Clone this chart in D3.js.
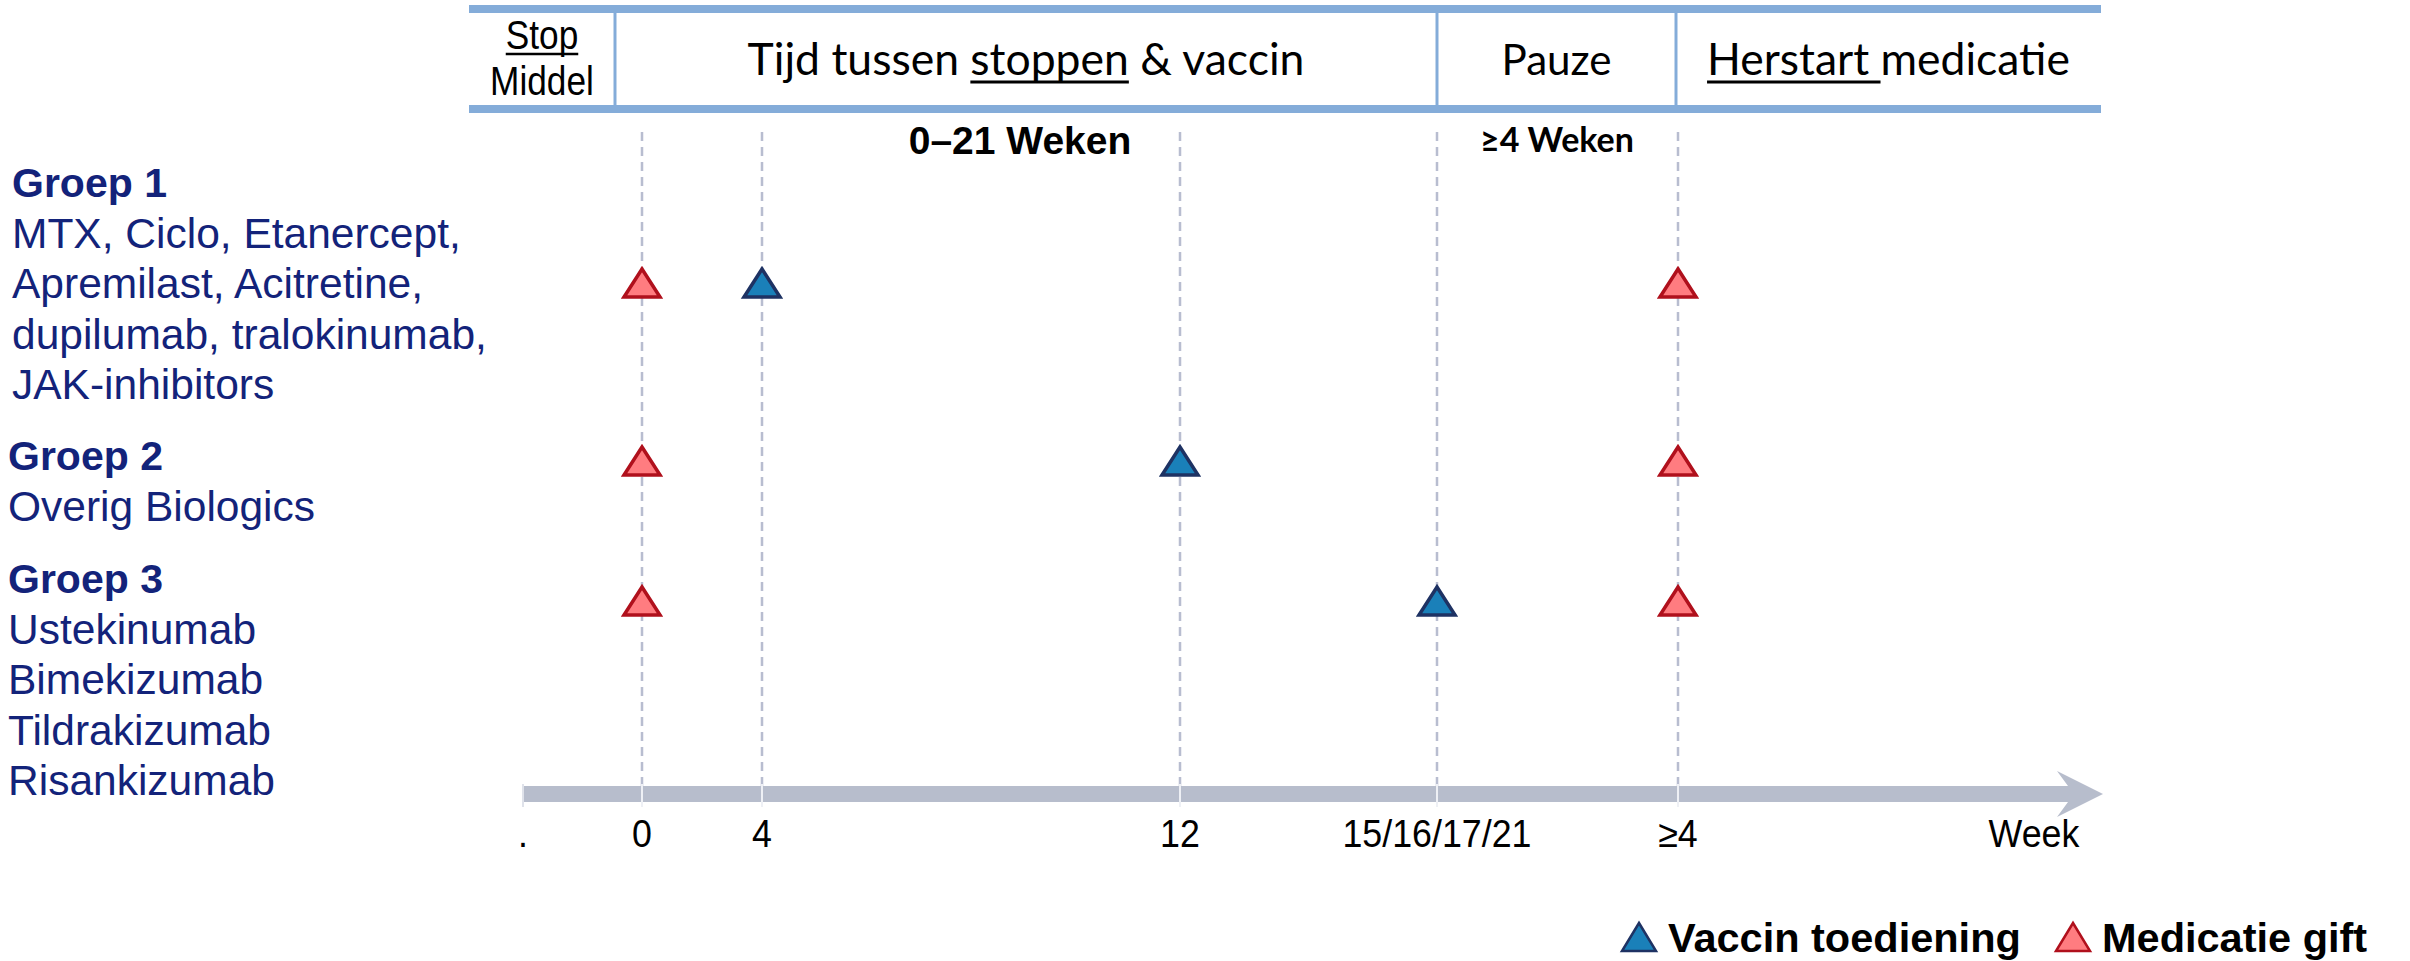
<!DOCTYPE html>
<html>
<head>
<meta charset="utf-8">
<script src="https://cdn.jsdelivr.net/npm/d3@7"></script>
<style>
  html, body { margin: 0; padding: 0; background: #ffffff; }
  svg { display: block; }
</style>
</head>
<body>
<svg id="chart" width="2410" height="961"></svg>
<script>
// ---------------- DATA ----------------
const groupTitles = ["Groep 1", "Groep 2", "Groep 3"];
const groupDrugs = [
  ["MTX, Ciclo, Etanercept,", "Apremilast, Acitretine,", "dupilumab, tralokinumab,", "JAK-inhibitors"],
  ["Overig Biologics"],
  ["Ustekinumab", "Bimekizumab", "Tildrakizumab", "Risankizumab"]
];
const tickLabels = [".", "0", "4", "12", "15/16/17/21", "≥4", "Week"];
const guideTicks = ["0", "4", "12", "15/16/17/21", "≥4"];
const stopAt = ["0", "0", "0"];              // medicatie gift (stop)
const vaccinAt = ["4", "12", "15/16/17/21"];  // vaccin toediening
const restartAt = ["≥4", "≥4", "≥4"];        // medicatie gift (herstart)
const headerCells = [
  { parts: [["Stop", true]], sub: "Middel" },
  { parts: [["Tijd tussen ", false], ["stoppen", true], [" & vaccin", false]] },
  { parts: [["Pauze", false]] },
  { parts: [["Herstart ", true], ["medicatie", false]] }
];
const durationLabels = ["0–21 Weken", "≥4 Weken"];
const legendLabels = ["Vaccin toediening", "Medicatie gift"];

// ---------------- LAYOUT ----------------
const svg = d3.select("#chart");
svg.append("rect").attr("width", 2410).attr("height", 961).attr("fill", "#ffffff");

const x = d3.scaleOrdinal().domain(tickLabels)
  .range([523, 642, 762, 1180, 1437, 1678, 2034]);
const y = d3.scaleOrdinal().domain(groupTitles).range([283, 461, 601]);

const navy = "#13237a";
const headerBlue = "#84acd9";
const barGray = "#b7bdcc";
const dashGray = "#b8bdd0";
const medFill = "#ff7c80", medStroke = "#b0101c";
const vacFill = "#1a80b9", vacStroke = "#1e3263";

// ---------- Header table ----------
const hx = [469, 615, 1437, 1676, 2101];
svg.append("rect").attr("x", hx[0]).attr("y", 5).attr("width", hx[4] - hx[0]).attr("height", 8).attr("fill", headerBlue);
svg.append("rect").attr("x", hx[0]).attr("y", 105).attr("width", hx[4] - hx[0]).attr("height", 8).attr("fill", headerBlue);
svg.selectAll("line.div").data(hx.slice(1, 4)).join("line")
  .attr("x1", d => d).attr("x2", d => d).attr("y1", 13).attr("y2", 105)
  .attr("stroke", headerBlue).attr("stroke-width", 3);

const calibriLike = "Lato, 'Open Sans', sans-serif";
const arialLike = "'Liberation Sans', Arial, sans-serif";
const targetW = [null, 557, 110, 363];
const narrow = 0.86;

headerCells.forEach((cell, i) => {
  const cx = (hx[i] + hx[i + 1]) / 2;
  if (i === 0) {
    const t1 = svg.append("text").attr("x", cx).attr("y", 49)
      .attr("text-anchor", "middle").attr("font-family", arialLike)
      .attr("font-size", 41).attr("fill", "#000")
      .attr("transform", `translate(${cx},0) scale(${narrow},1) translate(${-cx},0)`)
      .text(cell.parts[0][0]);
    const w = t1.node().getComputedTextLength() * narrow;
    svg.append("line").attr("x1", cx - w / 2).attr("x2", cx + w / 2)
      .attr("y1", 54).attr("y2", 54).attr("stroke", "#000").attr("stroke-width", 2.5);
    svg.append("text").attr("x", cx).attr("y", 95)
      .attr("text-anchor", "middle").attr("font-family", arialLike)
      .attr("font-size", 41).attr("fill", "#000")
      .attr("transform", `translate(${cx},0) scale(${narrow},1) translate(${-cx},0)`)
      .text(cell.sub);
    return;
  }
  const t = svg.append("text").attr("x", cx).attr("y", 75)
    .attr("text-anchor", "middle").attr("font-family", calibriLike)
    .attr("font-size", 44).attr("fill", "#000");
  cell.parts.forEach(p => t.append("tspan").text(p[0]));
  const w0 = t.node().getComputedTextLength();
  t.attr("font-size", 44 * targetW[i] / w0);
  const full = t.node().getComputedTextLength();
  const x0 = cx - full / 2;
  let idx = 0;
  cell.parts.forEach(p => {
    const len = p[0].length;
    if (p[1]) {
      const sx = idx === 0 ? 0 : t.node().getSubStringLength(0, idx);
      const sw = t.node().getSubStringLength(idx, len);
      svg.append("line").attr("x1", x0 + sx).attr("x2", x0 + sx + sw)
        .attr("y1", 82).attr("y2", 82).attr("stroke", "#000").attr("stroke-width", 3);
    }
    idx += len;
  });
});

// Duration labels
svg.append("text").attr("x", 1020).attr("y", 154).attr("text-anchor", "middle")
  .attr("font-family", arialLike).attr("font-weight", "bold").attr("font-size", 39)
  .attr("fill", "#000").text(durationLabels[0]);
const dl2 = svg.append("text").attr("x", 1557).attr("y", 152).attr("text-anchor", "middle")
  .attr("font-family", calibriLike).attr("font-weight", "bold").attr("font-size", 34)
  .attr("fill", "#000").text(durationLabels[1]);
{
  const w0 = dl2.node().getComputedTextLength();
  dl2.attr("font-size", 34 * 154 / w0);
}

// ---------- Dashed guide lines ----------
svg.selectAll("line.guide").data(guideTicks).join("line")
  .attr("class", "guide")
  .attr("x1", d => x(d)).attr("x2", d => x(d))
  .attr("y1", 132).attr("y2", 786)
  .attr("stroke", dashGray).attr("stroke-width", 2.5)
  .attr("stroke-dasharray", "9,6");

// ---------- Time arrow ----------
const barTop = 786, barBot = 802;
svg.append("path")
  .attr("d", `M${x(".")},${barTop} L2068,${barTop} L2057,771 L2103,794 L2057,817 L2068,${barBot} L${x(".")},${barBot} Z`)
  .attr("fill", barGray);
svg.selectAll("line.tickmark").data(tickLabels.slice(0, 6)).join("line")
  .attr("class", "tickmark")
  .attr("x1", d => x(d)).attr("x2", d => x(d))
  .attr("y1", 784).attr("y2", 807)
  .attr("stroke", (d, i) => i === 0 ? "#dfe2ea" : "#eef0f5").attr("stroke-width", 2);

svg.selectAll("text.tick").data(tickLabels).join("text")
  .attr("class", "tick")
  .attr("x", d => x(d)).attr("y", 847)
  .attr("text-anchor", "middle")
  .attr("transform", d => `translate(${x(d)},0) scale(0.93,1) translate(${-x(d)},0)`)
  .attr("font-family", arialLike).attr("font-size", 38.5).attr("fill", "#000")
  .text(d => d);

// ---------- Group labels ----------
groupTitles.forEach((g, i) => {
  const lx = i === 0 ? 12 : 8;
  const baseY = [197, 470, 593][i];
  svg.append("text").attr("x", lx).attr("y", baseY)
    .attr("font-family", arialLike).attr("font-weight", "bold").attr("font-size", 41)
    .attr("fill", navy).text(g);
  svg.selectAll(null).data(groupDrugs[i]).join("text")
    .attr("x", lx).attr("y", (d, j) => baseY + 50.5 * (j + 1))
    .attr("font-family", arialLike).attr("font-size", 42.5)
    .attr("fill", navy).text(d => d);
});

// ---------- Markers ----------
function tri(cx, cy, w, h) {
  const p = d3.path();
  p.moveTo(cx, cy - h / 2);
  p.lineTo(cx + w / 2, cy + h / 2);
  p.lineTo(cx - w / 2, cy + h / 2);
  p.closePath();
  return p.toString();
}
const markers = [];
groupTitles.forEach((g, i) => {
  markers.push({ g, at: stopAt[i], type: "med" });
  markers.push({ g, at: vaccinAt[i], type: "vac" });
  markers.push({ g, at: restartAt[i], type: "med" });
});
svg.selectAll("path.marker").data(markers).join("path")
  .attr("class", "marker")
  .attr("d", d => tri(x(d.at), y(d.g), 36, 28))
  .attr("fill", d => d.type === "med" ? medFill : vacFill)
  .attr("stroke", d => d.type === "med" ? medStroke : vacStroke)
  .attr("stroke-width", 3.5).attr("stroke-linejoin", "miter");

// ---------- Legend ----------
const legend = [
  { label: legendLabels[0], fill: vacFill, stroke: vacStroke, tx: 1639 },
  { label: legendLabels[1], fill: medFill, stroke: medStroke, tx: 2073 }
];
legend.forEach(l => {
  svg.append("path").attr("d", tri(l.tx, 937, 34, 28))
    .attr("fill", l.fill).attr("stroke", l.stroke).attr("stroke-width", 2.5);
  svg.append("text").attr("x", l.tx + 29).attr("y", 952)
    .attr("font-family", arialLike).attr("font-weight", "bold").attr("font-size", 41.5)
    .attr("fill", "#000").text(l.label);
});
</script>
</body>
</html>
